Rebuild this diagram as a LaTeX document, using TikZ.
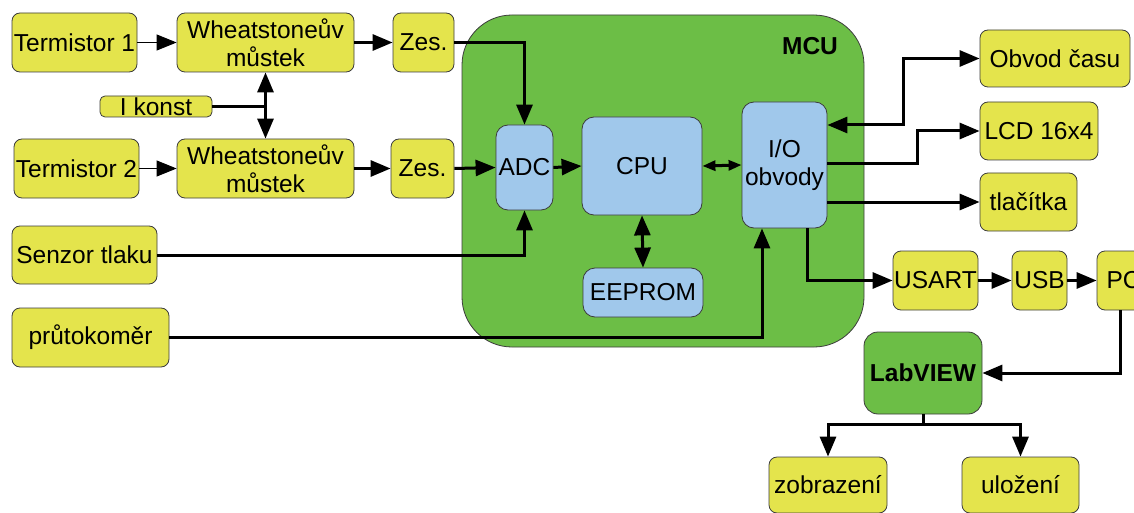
\documentclass[tikz,border=0pt]{standalone}
\usepackage{fontspec}
\setmainfont{Liberation Sans}
\usetikzlibrary{arrows.meta}
\definecolor{yel}{RGB}{228,228,76}
\definecolor{grn}{RGB}{108,190,70}
\definecolor{blu}{RGB}{160,200,235}
\definecolor{bord}{RGB}{60,60,60}
\newcommand\myfs{\fontsize{24.5}{27.5}\selectfont}
\begin{document}
\begin{tikzpicture}[x=1pt,y=-1pt,
  box/.style={draw=bord, line width=0.8pt, rounded corners=8pt, inner sep=0pt, align=center, font=\myfs},
  yb/.style={box, fill=yel},
  bb/.style={box, fill=blu, rounded corners=12pt},
  gb/.style={box, fill=grn, rounded corners=14pt},
  wire/.style={line width=3pt},
  ar/.style={wire, -{Triangle[length=20pt,width=16pt]}},
  dar/.style={wire, {Triangle[length=20pt,width=16pt]}-{Triangle[length=20pt,width=16pt]}},
  thinar/.style={line width=1pt, -{Triangle[length=20pt,width=16pt]}},
  smallar/.style={line width=3pt, {Triangle[length=13pt,width=10pt]}-{Triangle[length=13pt,width=10pt]}}
]
\path[use as bounding box] (0,0) rectangle (1134,513);
\clip (0,0) rectangle (1134,513);
% MCU
\node[draw=bord, line width=0.8pt, fill=grn, rounded corners=50pt, minimum width=402pt, minimum height=332pt, inner sep=0pt] (mcu) at (663,181) {};
\node[font=\myfs\bfseries] (mcul) at (810,46) {MCU};
% left side
\node[yb, minimum width=125pt, minimum height=59pt] (t1) at (74.5,42.5) {Termistor 1};
\node[yb, minimum width=177pt, minimum height=59pt] (w1) at (265.5,42.5) {Wheatstoneův\\můstek};
\node[yb, minimum width=61pt, minimum height=59pt] (z1) at (423.5,42.5) {Zes.};
\node[yb, rounded corners=5pt, minimum width=112pt, minimum height=21pt] (ik) at (156,106.5) {I konst};
\node[yb, minimum width=125pt, minimum height=59pt] (t2) at (76.5,168.5) {Termistor 2};
\node[yb, minimum width=177pt, minimum height=59pt] (w2) at (265.5,168.5) {Wheatstoneův\\můstek};
\node[yb, minimum width=63pt, minimum height=59pt] (z2) at (422.5,168.5) {Zes.};
\node[yb, minimum width=145pt, minimum height=58pt] (st) at (84.5,255) {Senzor tlaku};
\node[yb, minimum width=157pt, minimum height=59pt] (pr) at (90.5,337.5) {průtokoměr};
% MCU inside
\node[bb, minimum width=57pt, minimum height=85pt] (adc) at (524.5,167.5) {ADC};
\node[bb, minimum width=120pt, minimum height=98pt] (cpu) at (642,166) {CPU};
\node[bb, minimum width=120pt, minimum height=49pt] (eep) at (643,292.5) {EEPROM};
\node[bb, minimum width=85pt, minimum height=126pt] (io) at (784.5,165) {I/O\\obvody};
% right side
\node[yb, minimum width=150pt, minimum height=57pt] (oc) at (1055,58.5) {Obvod času};
\node[yb, minimum width=118pt, minimum height=58pt] (lcd) at (1039,131) {LCD 16x4};
\node[yb, minimum width=97pt, minimum height=58pt] (tl) at (1028.5,202) {tlačítka};
\node[yb, minimum width=85pt, minimum height=59pt] (us) at (935.5,280.5) {USART};
\node[yb, minimum width=55pt, minimum height=59pt] (usb) at (1039.5,280.5) {USB};
\node[yb, minimum width=53pt, minimum height=59pt] (pc) at (1123.5,280.5) {PC};
\node[gb, minimum width=118pt, minimum height=82pt, font=\myfs\bfseries] (lv) at (923,373) {LabVIEW};
\node[yb, minimum width=118pt, minimum height=56pt] (zo) at (828,485) {zobrazení};
\node[yb, minimum width=117pt, minimum height=56pt] (ul) at (1020.5,485) {uložení};
% connectors
\draw[thinar] (t1.east) -- (w1.west);
\draw[thinar] (t2.east) -- (w2.west);
\draw[ar] (w1.east) -- (z1.west);
\draw[ar] (w2.east) -- (z2.west);
\coordinate (ij) at (265.5,106.5);
\draw[wire] (ik.east) -- (ij);
\draw[dar] (w1.south) -- (w2.north);
\draw[ar] (z1.east) -| (adc.north);
\draw[ar] (z2.east) -- (adc.west);
\draw[ar] (st.east) -| (adc.south);
\draw[ar] (pr.east) -| ([xshift=-22.5pt]io.south);
\draw[ar] (adc.east) -- (cpu.west);
\draw[smallar] (cpu.east) -- (io.west);
\draw[dar] (cpu.south) -- (eep.north);
\draw[dar] ([yshift=40pt]io.east) -- (903,125) |- (oc.west);
\draw[ar] ([yshift=1pt]io.east) -- (917,164) |- (lcd.west);
\draw[ar] ([yshift=-37pt]io.east) -- (tl.west);
\draw[ar] ([xshift=22.5pt]io.south) |- (us.west);
\draw[ar] (us.east) -- (usb.west);
\draw[ar] (usb.east) -- (pc.west);
\draw[ar] ([xshift=-3.5pt]pc.south) |- (lv.east);
\coordinate (lj) at (923,424);
\draw[wire] (lv.south) -- (lj);
\draw[ar] (lj) -| (zo.north);
\draw[ar] (lj) -| (ul.north);
\end{tikzpicture}
\end{document}
